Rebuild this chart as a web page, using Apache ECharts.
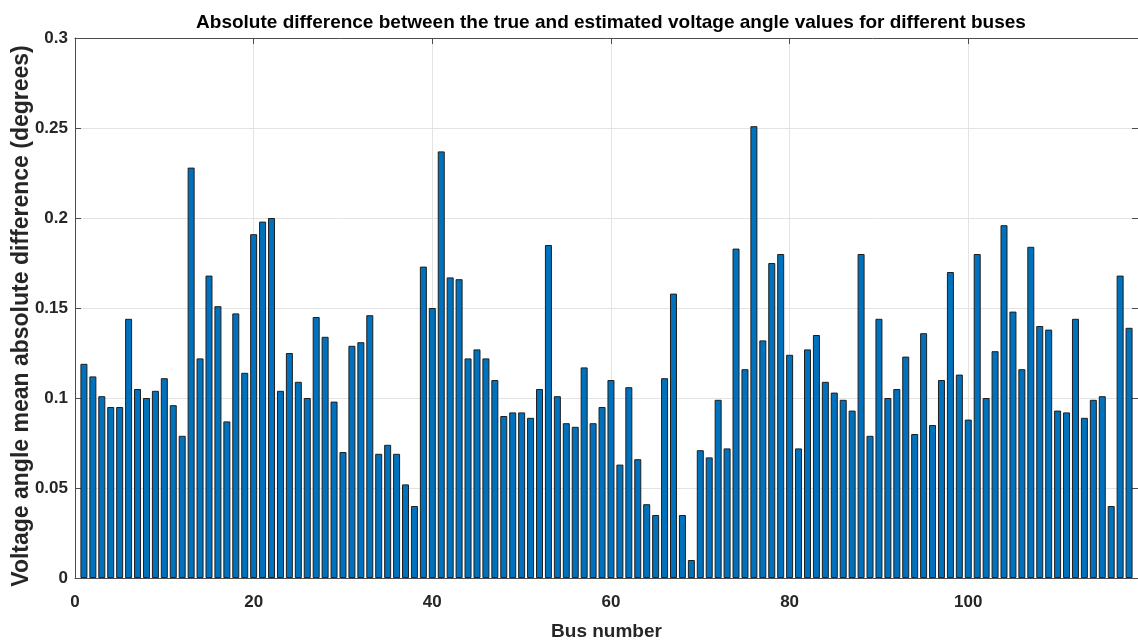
<!DOCTYPE html>
<html>
<head>
<meta charset="utf-8">
<script src="https://cdn.jsdelivr.net/npm/echarts@6/dist/echarts.min.js"></script>
<style>html,body{margin:0;padding:0;background:#fff}#c{width:1138px;height:644px}</style>
</head>
<body>
<div id="c"></div>
<script>
const titleText = 'Absolute difference between the true and estimated voltage angle values for different buses';
const xName = 'Bus number';
const yName = 'Voltage angle mean absolute difference (degrees)';
const buses = Array.from({length: 118}, (_, i) => i + 1);
const values = [
  0.119, 0.112, 0.101, 0.095, 0.095, 0.144, 0.105, 0.100, 0.104, 0.111,
  0.096, 0.079, 0.228, 0.122, 0.168, 0.151, 0.087, 0.147, 0.114, 0.191,
  0.198, 0.200, 0.104, 0.125, 0.109, 0.100, 0.145, 0.134, 0.098, 0.070,
  0.129, 0.131, 0.146, 0.069, 0.074, 0.069, 0.052, 0.040, 0.173, 0.150,
  0.237, 0.167, 0.166, 0.122, 0.127, 0.122, 0.110, 0.090, 0.092, 0.092,
  0.089, 0.105, 0.185, 0.101, 0.086, 0.084, 0.117, 0.086, 0.095, 0.110,
  0.063, 0.106, 0.066, 0.041, 0.035, 0.111, 0.158, 0.035, 0.010, 0.071,
  0.067, 0.099, 0.072, 0.183, 0.116, 0.251, 0.132, 0.175, 0.180, 0.124,
  0.072, 0.127, 0.135, 0.109, 0.103, 0.099, 0.093, 0.180, 0.079, 0.144,
  0.100, 0.105, 0.123, 0.080, 0.136, 0.085, 0.110, 0.170, 0.113, 0.088,
  0.180, 0.100, 0.126, 0.196, 0.148, 0.116, 0.184, 0.140, 0.138, 0.093,
  0.092, 0.144, 0.089, 0.099, 0.101, 0.040, 0.168, 0.139
];

const chart = echarts.init(document.getElementById('c'), null, {renderer: 'canvas'});
const font = 'Liberation Sans, Arial, sans-serif';
const axisColor = '#4d4d4d';
const labelColor = '#262626';
const gridColor = '#e3e3e3';

chart.setOption({
  animation: false,
  backgroundColor: '#ffffff',
  title: {
    text: titleText,
    left: 606,
    textAlign: 'center',
    top: 8,
    textStyle: {fontFamily: font, fontSize: 19, fontWeight: 'bold', color: '#000'}
  },
  grid: {left: 75, right: 0, top: 38, bottom: 66, containLabel: false, outerBoundsMode: 'none'},
  xAxis: [{
    type: 'value', min: 0, max: 119, interval: 20, position: 'bottom',
    name: xName, nameLocation: 'middle', nameGap: 44, nameMoveOverlap: false,
    nameTextStyle: {fontFamily: font, fontSize: 19, fontWeight: 'bold', color: labelColor},
    axisLine: {show: true, onZero: false, lineStyle: {color: axisColor, width: 1}},
    axisTick: {show: true, inside: true, length: 6, lineStyle: {color: axisColor}},
    axisLabel: {fontFamily: font, fontSize: 17, fontWeight: 'bold', color: labelColor, margin: 16, showMaxLabel: false},
    splitLine: {show: true, lineStyle: {color: gridColor, width: 1}}
  }, {
    type: 'value', min: 0, max: 119, interval: 20, position: 'top',
    axisLine: {show: true, onZero: false, lineStyle: {color: axisColor, width: 1}},
    axisTick: {show: true, inside: true, length: 6, lineStyle: {color: axisColor}},
    axisLabel: {show: false},
    splitLine: {show: false}
  }],
  yAxis: [{
    type: 'value', min: 0, max: 0.3, interval: 0.05, position: 'left',
    name: yName, nameLocation: 'middle', nameGap: 42, nameMoveOverlap: false,
    nameTextStyle: {fontFamily: font, fontSize: 23, fontWeight: 'bold', color: labelColor, padding: [0, 16, 0, 0]},
    axisLine: {show: true, onZero: false, lineStyle: {color: axisColor, width: 1}},
    axisTick: {show: true, inside: true, length: 6, lineStyle: {color: axisColor}},
    axisLabel: {fontFamily: font, fontSize: 17, fontWeight: 'bold', color: labelColor, margin: 7},
    splitLine: {show: true, lineStyle: {color: gridColor, width: 1}}
  }, {
    type: 'value', min: 0, max: 0.3, interval: 0.05, position: 'right',
    axisLine: {show: true, onZero: false, lineStyle: {color: axisColor, width: 1}},
    axisTick: {show: true, inside: true, length: 6, lineStyle: {color: axisColor}},
    axisLabel: {show: false},
    splitLine: {show: false}
  }],
  series: [{
    type: 'bar',
    xAxisIndex: 0, yAxisIndex: 0,
    barWidth: 7,
    data: buses.map((b, i) => [b, values[i]]),
    itemStyle: {color: '#0072BD', borderColor: '#1f1f1f', borderWidth: 1},
    emphasis: {disabled: true}
  }]
});
</script>
</body>
</html>
